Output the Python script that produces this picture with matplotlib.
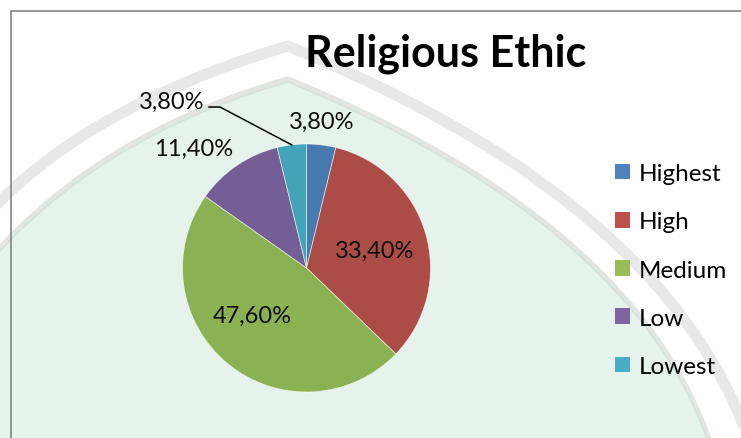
import numpy as np
import matplotlib
matplotlib.use("Agg")
import matplotlib.pyplot as plt
from matplotlib.patches import Patch, Polygon
from matplotlib.colors import to_rgb

# ---------------- data ----------------
categories = ["Highest", "High", "Medium", "Low", "Lowest"]
values = [3.8, 33.4, 47.6, 11.4, 3.8]
colors = ["#4f81bd", "#c0504d", "#9bbb59", "#8064a2", "#4bacc6"]
title = "Religious Ethic"

# ---------------- layout ----------------
W, H = 741, 439
plt.rcParams['font.family'] = ['Lato', 'DejaVu Sans']
fig = plt.figure(figsize=(W / 100, H / 100), dpi=100)
fig.patch.set_facecolor("white")

# background (watermark) axes in pixel coordinates
bg = fig.add_axes([0, 0, 1, 1])
bg.set_xlim(0, W)
bg.set_ylim(H, 0)
bg.axis("off")


def qbez(p0, p1, p2, n=120):
    t = np.linspace(0, 1, n)[:, None]
    p0, p1, p2 = map(np.asarray, (p0, p1, p2))
    return (1 - t) ** 2 * p0 + 2 * (1 - t) * t * p1 + t ** 2 * p2


tint = "#e5f3ec"
# inner (green) region
inner_left = qbez((288, 80), (101, 134), (-10, 260))
inner_right = qbez((288, 80), (640, 225), (712, 450))
inner = np.vstack([inner_left[::-1], inner_right[1:]])
poly = np.vstack([inner, [(712, 460), (-10, 460)]])
bg.add_patch(Polygon(poly, closed=True, facecolor=tint, edgecolor="none", zorder=1))
bg.plot(inner[:, 0], inner[:, 1], color="#e2e5e2", lw=4.0, solid_joinstyle="miter", zorder=2)
bg.plot(inner[:, 0], inner[:, 1] + 3, color="#d3e3d9", lw=1.0, zorder=2)
# outer grey band
outer_left = qbez((288, 47), (84, 108), (-15, 218))
outer_right = qbez((288, 47), (672, 205), (752, 450))
outer = np.vstack([outer_left[::-1], outer_right[1:]])
bg.plot(outer[:, 0], outer[:, 1], color="#e8e8e8", lw=8.0, solid_joinstyle="miter", zorder=2)

# chart border
bg.plot([11, 11, W + 5], [H + 5, 12, 12], color="#8c8c8c", lw=1.3, zorder=3)

# ---------------- pie ----------------
cx, cy, R = 306.5, 269.0, 124.0
ax = fig.add_axes([(cx - R) / W, (H - cy - R) / H, 2 * R / W, 2 * R / H])
ax.patch.set_visible(False)
tint_rgb = np.array(to_rgb(tint))
pie_colors = [tuple(np.array(to_rgb(c)) * tint_rgb) for c in colors]
wedges, _ = ax.pie(values, colors=pie_colors, startangle=90, counterclock=False,
                   radius=1.0, wedgeprops=dict(edgecolor=(1, 1, 1, 0.6), linewidth=0.6))
ax.set_xlim(-1, 1)
ax.set_ylim(-1, 1)


def to_data(px, py):
    return (px - cx) / R, (cy - py) / R


label_px = [(322, 129), (375, 258), (252.5, 323), (193.5, 156), (172, 109)]
for v, (px, py) in zip(values, label_px):
    x, y = to_data(px, py)
    ax.text(x, y, f"{v:.2f}%".replace(".", ","), ha="center", va="baseline",
            fontsize=17, color="#0d0d0d", clip_on=False)

# leader line for the last slice
w = wedges[-1]
mid = np.deg2rad((w.theta1 + w.theta2) / 2)
p1 = to_data(209, 108)
p2 = to_data(220, 108)
ax.plot([p1[0], p2[0], np.cos(mid)], [p1[1], p2[1], np.sin(mid)],
        color="black", lw=1.1, clip_on=False)

# ---------------- title ----------------
fig.text(445.5 / W, 1 - 66 / H, title, ha="center", va="baseline",
         fontsize=31, fontweight="bold", color="black")

# ---------------- legend ----------------
handles = [Patch(facecolor=c, edgecolor="none") for c in colors]
fig.legend(handles, categories, loc="center left",
           bbox_to_anchor=(615 / W, 1 - 271 / H), frameon=False,
           fontsize=17.5, handlelength=0.62, handleheight=0.62,
           handletextpad=0.36, labelspacing=1.12, borderpad=0, borderaxespad=0)

fig.savefig("out.png", dpi=100)
